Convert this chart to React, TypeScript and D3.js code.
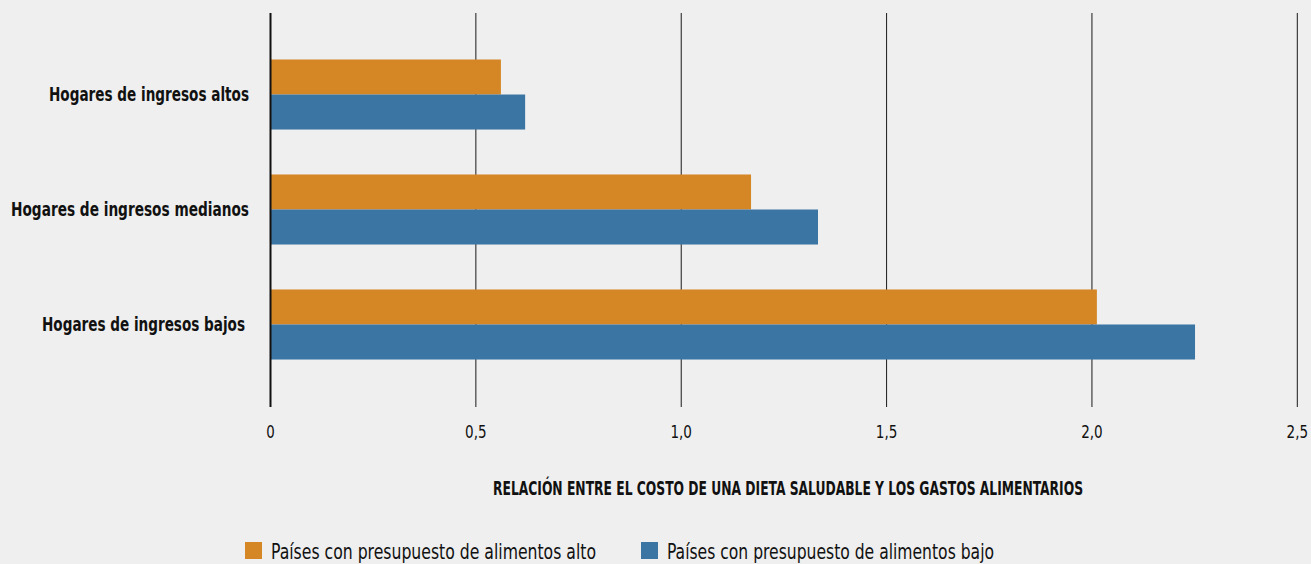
import React, { useEffect } from "react";
import * as d3 from "d3";

const categories = ["Hogares de ingresos altos", "Hogares de ingresos medianos", "Hogares de ingresos bajos"];
const seriesNames = ["Países con presupuesto de alimentos alto", "Países con presupuesto de alimentos bajo"];
const highBudget = [0.561, 1.17, 2.012];
const lowBudget = [0.62, 1.333, 2.251];
const tickValues = [0, 0.5, 1.0, 1.5, 2.0, 2.5];
const tickLabels = ["0", "0,5", "1,0", "1,5", "2,0", "2,5"];
const axisTitle = "RELACIÓN ENTRE EL COSTO DE UNA DIETA SALUDABLE Y LOS GASTOS ALIMENTARIOS";

// layout (text widths to emulate the condensed typeface)
const labelWidths = [200, 238, 203];
const labelRight = [249, 249, 245];
const legendX = [245, 641];
const legendTextWidths = [325, 327];

const W = 1311;
const H = 564;
const COLORS = ["#d58625", "#3a75a3"];
const FONT = "'DejaVu Sans Condensed', 'Liberation Sans Narrow', 'Roboto', sans-serif";

export default function App() {
  useEffect(() => {
    document.body.style.margin = "0";
  }, []);

  const x = d3.scaleLinear().domain([0, 2.5]).range([270.5, 1297.3]);
  const y = d3.scaleBand<string>().domain(categories).range([12, 407]).paddingInner(0.391).paddingOuter(0.413);
  const sub = d3.scaleBand<number>().domain([0, 1]).range([0, y.bandwidth()]);
  const series = [highBudget, lowBudget];

  return (
    <svg width={W} height={H} style={{ display: "block", background: "#efefef", fontFamily: FONT }}>
      <rect x={0} y={0} width={W} height={H} fill="#efefef" />
      {tickValues.slice(1).map((t) => (
        <line key={t} x1={x(t)} x2={x(t)} y1={13} y2={407} stroke="#1a1a1a" strokeWidth={1} />
      ))}
      {series.map((vals, si) =>
        vals.map((v, ci) => (
          <rect
            key={`${si}-${ci}`}
            x={x(0)}
            y={(y(categories[ci]) as number) + (sub(si) as number)}
            width={x(v) - x(0)}
            height={sub.bandwidth()}
            fill={COLORS[si]}
          />
        ))
      )}
      <line x1={x(0)} x2={x(0)} y1={13} y2={407} stroke="#111" strokeWidth={2} />
      {categories.map((c, i) => (
        <text
          key={c}
          x={labelRight[i]}
          y={(y(c) as number) + y.bandwidth() / 2 + 6.7}
          textAnchor="end"
          fontSize={19}
          fontWeight="bold"
          fill="#111"
          textLength={labelWidths[i]}
          lengthAdjust="spacingAndGlyphs"
        >
          {c}
        </text>
      ))}
      {tickValues.map((t, i) => (
        <text
          key={t}
          x={x(t)}
          y={438}
          textAnchor="middle"
          fontSize={18}
          fill="#111"
          textLength={tickLabels[i].length === 1 ? 8.5 : 21.5}
          lengthAdjust="spacingAndGlyphs"
        >
          {tickLabels[i]}
        </text>
      ))}
      <text
        x={788}
        y={494.7}
        textAnchor="middle"
        fontSize={19}
        fontWeight="bold"
        fill="#111"
        textLength={590}
        lengthAdjust="spacingAndGlyphs"
      >
        {axisTitle}
      </text>
      {seriesNames.map((s, i) => {
        const lx = legendX[i];
        return (
          <g key={s}>
            <rect x={lx} y={542} width={17} height={17} fill={COLORS[i]} />
            <text
              x={lx + 26}
              y={558.5}
              fontSize={21}
              fill="#111"
              textLength={legendTextWidths[i]}
              lengthAdjust="spacingAndGlyphs"
            >
              {s}
            </text>
          </g>
        );
      })}
    </svg>
  );
}
